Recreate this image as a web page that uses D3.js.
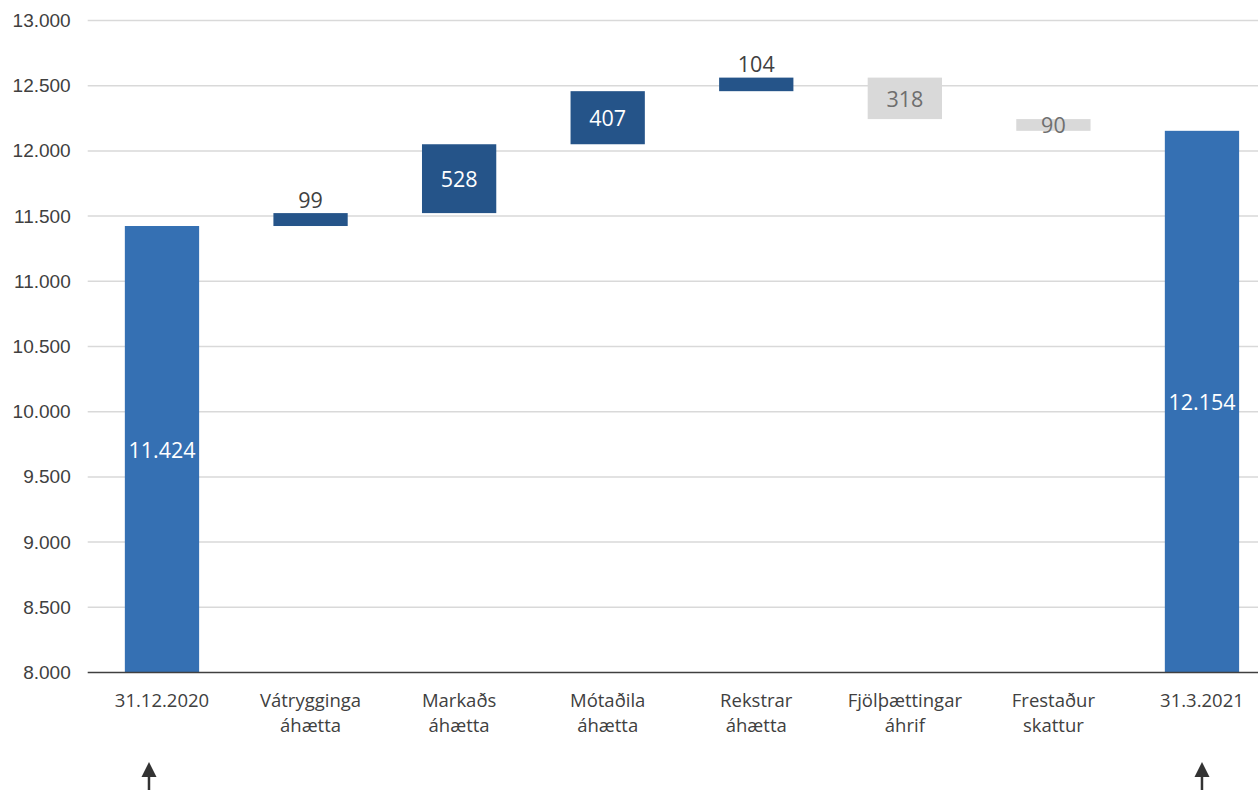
<!DOCTYPE html>
<html>
<head>
<meta charset="utf-8">
<script src="https://cdn.jsdelivr.net/npm/d3@7"></script>
<style>
  body { margin: 0; background: #fff; }
  svg { display: block; font-family: "Open Sans", "Liberation Sans", sans-serif; }
  .grid line { stroke: #d9d9d9; stroke-width: 1.5; }
  .y-axis text { fill: #404040; font-size: 19px; }
  .x-label { fill: #404040; font-size: 18.5px; }
</style>
</head>
<body>
<div id="chart"></div>
<script>
// categories (two-line labels)
const categories = [
  ["31.12.2020"],
  ["Vátrygginga", "áhætta"],
  ["Markaðs", "áhætta"],
  ["Mótaðila", "áhætta"],
  ["Rekstrar", "áhætta"],
  ["Fjölþættingar", "áhrif"],
  ["Frestaður", "skattur"],
  ["31.3.2021"]
];
// change per step; first and last are totals
const stepValues = [11424, 99, 528, 407, 104, -318, -90, 12154];
const stepTypes = ["total", "up", "up", "up", "up", "down", "down", "total"];
const yTicks = [8000, 8500, 9000, 9500, 10000, 10500, 11000, 11500, 12000, 12500, 13000];

const width = 1258, height = 790;
const margin = {top: 20.5, left: 87.7, bottom: 117};

const locale = d3.formatLocale({decimal: ",", thousands: ".", grouping: [3], currency: ["", ""]});
const fmt = locale.format(",d");

// build waterfall segments
let running = 0;
const bars = stepValues.map((v, i) => {
  let y0, y1;
  if (stepTypes[i] === "total") {
    y0 = 0; y1 = v; running = v;
  } else {
    y0 = running; y1 = running + v; running = y1;
  }
  return {i, key: categories[i].join(" "), value: v, type: stepTypes[i], lo: Math.min(y0, y1), hi: Math.max(y0, y1)};
});

const svg = d3.select("#chart").append("svg")
  .attr("width", width)
  .attr("height", height);

// scales
const x = d3.scaleBand()
  .domain(bars.map(d => d.key))
  .range([margin.left, margin.left + 8 * 148.57])
  .paddingInner(0.5)
  .paddingOuter(0.25);

const y = d3.scaleLinear()
  .domain([8000, 13000])
  .range([height - margin.bottom - 0.5, margin.top]);

const colours = {total: "#3570b3", up: "#255489", down: "#d9d9d9"};
const labelColours = {total: "#ffffff", up: "#ffffff", down: "#6e6e6e"};

// gridlines
svg.append("g")
  .attr("class", "grid")
  .selectAll("line")
  .data(yTicks.slice(1))
  .join("line")
    .attr("x1", margin.left)
    .attr("x2", width)
    .attr("y1", d => y(d))
    .attr("y2", d => y(d));

// y axis labels
const yAxis = d3.axisLeft(y)
  .tickValues(yTicks)
  .tickFormat(d => fmt(d))
  .tickSize(0)
  .tickPadding(17);

svg.append("g")
  .attr("class", "y-axis")
  .attr("transform", `translate(${margin.left},0)`)
  .call(yAxis)
  .call(g => g.select(".domain").remove());

// bars
const clampLo = d => Math.max(d.lo, 8000);

svg.append("g")
  .selectAll("rect")
  .data(bars)
  .join("rect")
    .attr("x", d => x(d.key))
    .attr("width", x.bandwidth())
    .attr("y", d => y(d.hi))
    .attr("height", d => y(clampLo(d)) - y(d.hi))
    .attr("fill", d => colours[d.type]);

// baseline
svg.append("line")
  .attr("x1", margin.left)
  .attr("x2", width)
  .attr("y1", y(8000))
  .attr("y2", y(8000))
  .attr("stroke", "#404040")
  .attr("stroke-width", 1.5);

// data labels
const isSmallUp = d => d.type === "up" && (y(d.lo) - y(d.hi)) < 25;

svg.append("g")
  .selectAll("text")
  .data(bars)
  .join("text")
    .attr("x", d => x(d.key) + x.bandwidth() / 2)
    .attr("y", d => isSmallUp(d) ? y(d.hi) - 14 : (y(clampLo(d)) + y(d.hi)) / 2)
    .attr("text-anchor", "middle")
    .attr("dominant-baseline", "central")
    .attr("font-size", "21.5px")
    .attr("fill", d => isSmallUp(d) ? "#404040" : labelColours[d.type])
    .text(d => fmt(Math.abs(d.value)));

// category labels
const xl = svg.append("g")
  .selectAll("text")
  .data(bars)
  .join("text")
    .attr("class", "x-label")
    .attr("text-anchor", "middle")
    .attr("x", d => x(d.key) + x.bandwidth() / 2)
    .attr("y", y(8000) + 34);

xl.selectAll("tspan")
  .data(d => categories[d.i].map(t => ({t, cx: x(d.key) + x.bandwidth() / 2})))
  .join("tspan")
    .attr("x", d => d.cx)
    .attr("dy", (d, j) => j === 0 ? 0 : 25)
    .text(d => d.t);

// arrows under the two totals
const arrowAt = [{key: bars[0].key, dx: -13}, {key: bars[7].key, dx: 0}];
const arrows = svg.append("g")
  .selectAll("g")
  .data(arrowAt)
  .join("g")
    .attr("transform", d => `translate(${x(d.key) + x.bandwidth() / 2 + d.dx},0)`);

arrows.append("path")
  .attr("d", "M0,762 L-7.5,777 L7.5,777 Z")
  .attr("fill", "#333");

arrows.append("line")
  .attr("y1", 776)
  .attr("y2", 790)
  .attr("stroke", "#333")
  .attr("stroke-width", 2.5);
</script>
</body>
</html>
